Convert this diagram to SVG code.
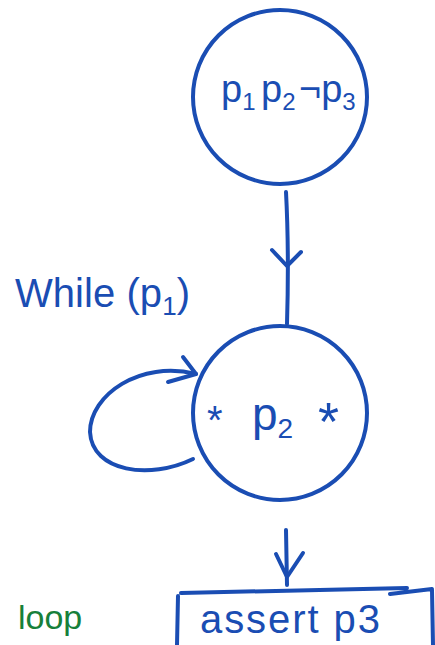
<svg xmlns="http://www.w3.org/2000/svg" width="435" height="645" viewBox="0 0 435 645">
<style>
.s{fill:none;stroke:#1a4db3;stroke-width:4;stroke-linecap:round;stroke-linejoin:round}
.t{fill:#1a4db3;font-family:"Liberation Sans","DejaVu Sans",sans-serif}
.g{fill:#17803a;font-family:"Liberation Sans","DejaVu Sans",sans-serif}
</style>
<rect width="435" height="645" fill="#fff"/>
<g id="node-top">
<circle class="s" cx="280" cy="97" r="87"/>
<text class="t" x="221" y="102" font-size="38">p<tspan font-size="24" dy="8">1</tspan></text>
<text class="t" x="261" y="102" font-size="38">p<tspan font-size="24" dy="8">2</tspan></text>
<text class="t" x="299" y="102" font-size="38">¬p<tspan font-size="24" dy="8">3</tspan></text>
</g>
<g id="node-loop">
<circle class="s" cx="280" cy="413" r="87"/>
<text class="t" x="207" y="434" font-size="40">*</text>
<text class="t" x="252" y="430" font-size="46">p<tspan font-size="28" dy="8">2</tspan></text>
<text class="t" x="318" y="440" font-size="54">*</text>
</g>
<g id="label-while">
<text class="t" x="15" y="307" font-size="40" textLength="175">While (p<tspan font-size="26" dy="8">1</tspan><tspan dy="-8">)</tspan></text>
</g>
<g id="node-assert">
<path class="s" d="M181 593 L407 588 M390 594 L432 589 M178 596 L177 645 M432 590 L433 645"/>
<text class="t" x="200" y="633" font-size="40" textLength="180">assert p3</text>
</g>
<g id="label-loop">
<text class="g" x="18" y="629" font-size="34">loop</text>
</g>
<g id="connectors">
<path class="s" d="M286 192 C288 230 288 290 287 324"/>
<path class="s" d="M272 250 L287 266 L301 252"/>
<path class="s" d="M193 459 C150 480 92 472 90 432 C90 395 140 360 196 374"/>
<path class="s" d="M183 357 L196 374 L168 382"/>
<path class="s" d="M286 530 L287 585"/>
<path class="s" d="M276 554 L287 577 L303 553"/>
</g>
</svg>
